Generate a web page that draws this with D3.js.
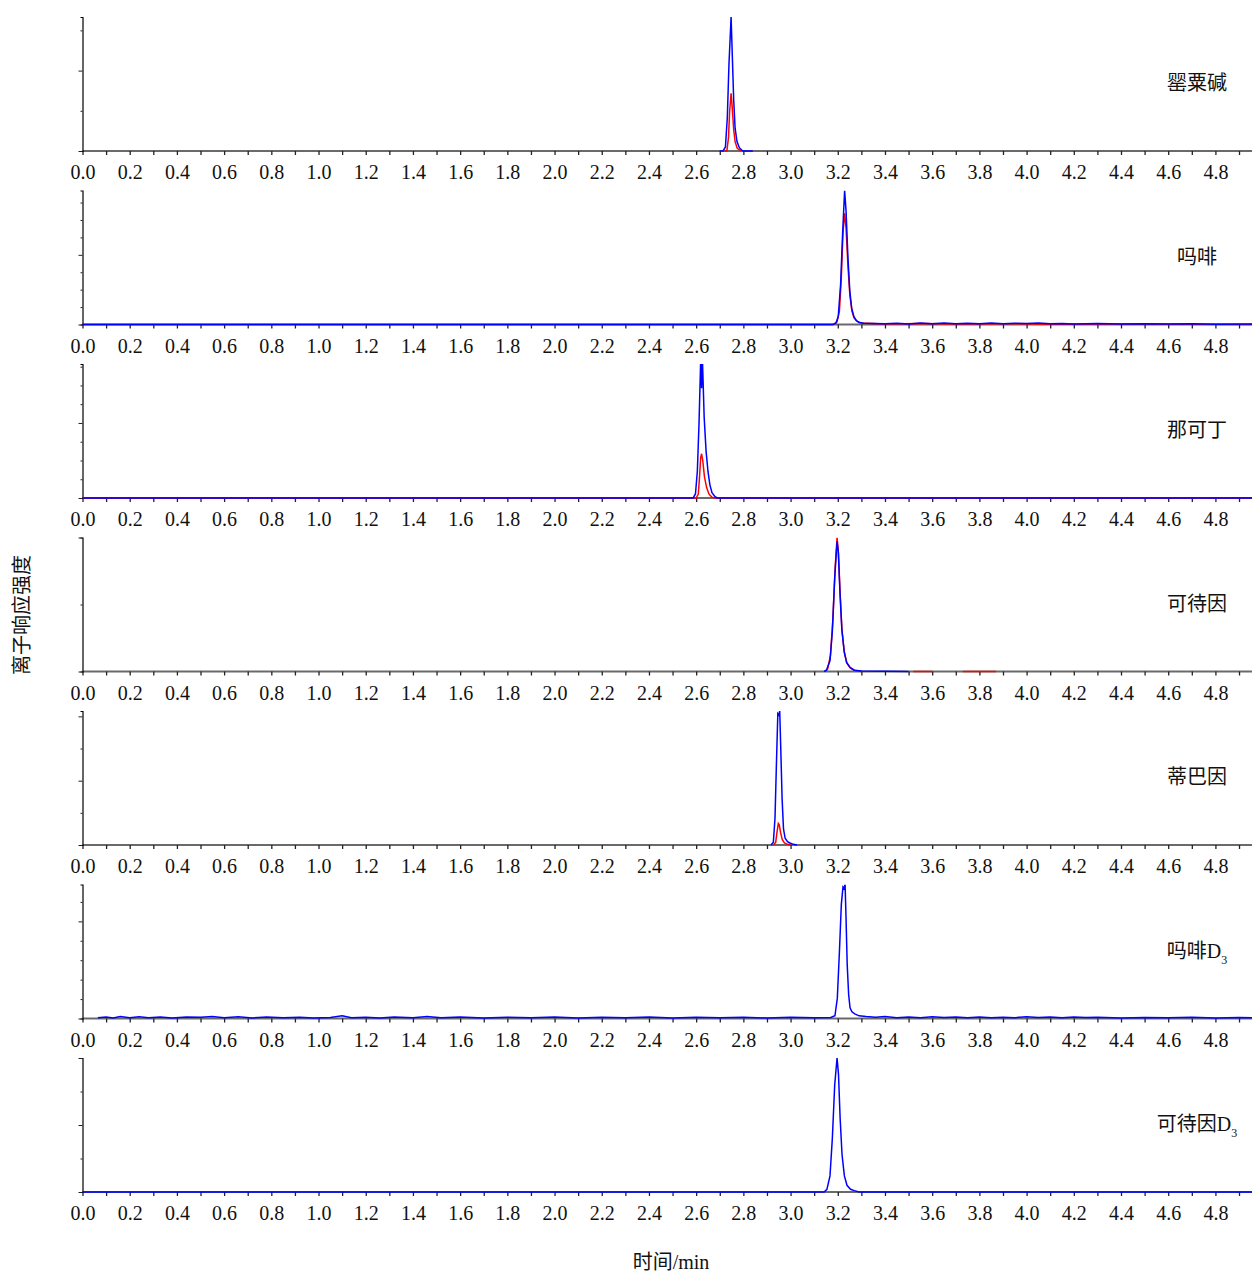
<!DOCTYPE html>
<html>
<head>
<meta charset="utf-8">
<script src="https://cdn.jsdelivr.net/npm/d3@7"></script>
<style>
  body { margin: 0; background: #fff; }
  svg text { font-family: "Liberation Serif", "Times New Roman", "Noto Sans CJK SC", serif; }
</style>
</head>
<body>
<svg id="chart"></svg>
<script>
// panel names (compound labels)
const compounds = ['罂粟碱', '吗啡', '那可丁', '可待因', '蒂巴因', '吗啡D3', '可待因D3'];

// x tick labels (time, min)
const xTickLabels = [0.0, 0.2, 0.4, 0.6, 0.8, 1.0, 1.2, 1.4, 1.6, 1.8, 2.0, 2.2, 2.4, 2.6, 2.8, 3.0, 3.2, 3.4, 3.6, 3.8, 4.0, 4.2, 4.4, 4.6, 4.8];
const xMinorTicks = [0.1, 0.3, 0.5, 0.7, 0.9, 1.1, 1.3, 1.5, 1.7, 1.9, 2.1, 2.3, 2.5, 2.7, 2.9, 3.1, 3.3, 3.5, 3.7, 3.9, 4.1, 4.3, 4.5, 4.7, 4.9];

// y ticks per panel (relative intensity, 100 = panel top)
const yTicks = [
    [0, 30, 60, 90],
    [0, 13, 26, 39, 52, 65, 78, 91],
    [0, 14, 28, 42, 56, 70, 84, 98],
    [0, 50, 100],
    [0, 24, 48, 72, 96],
    [0, 14.5, 29, 43.5, 58, 72.5, 87],
    [0, 25, 50, 75, 100]
];
const yMajorTicks = [
    [0, 60],
    [0, 52],
    [0, 56],
    [0, 100],
    [0, 48, 96],
    [0, 72.5],
    [0, 50, 100]
];

// traces: [time, relative intensity]; null = gap
const redTraces = [
    [[2.72, 0], [2.73, 0], [2.737, 10], [2.742, 30], [2.748, 43], [2.753, 32], [2.759, 16], [2.765, 7], [2.774, 2], [2.79, 0]],
    [[0, 0], [3.00, 0], [3.18, 0], [3.197, 2], [3.207, 10], [3.215, 35], [3.222, 68], [3.229, 83], [3.235, 72], [3.243, 44], [3.251, 22], [3.260, 10], [3.269, 5], [3.281, 2.5], [3.30, 1.2], [3.40, 0.4], [3.55, 0.8], [3.70, 0.3], [3.90, 0.6], [4.10, 0.2], [4.40, 0.4], [4.96, 0]],
    [[0, 0], [2.60, 0], [2.609, 3], [2.614, 15], [2.619, 30], [2.623, 33], [2.628, 28], [2.635, 16], [2.644, 8], [2.654, 3], [2.667, 0.5], [2.68, 0], [4.96, 0]],
    [[3.147, 0], [3.157, 2], [3.169, 12], [3.179, 38], [3.189, 78], [3.197, 100], [3.203, 88], [3.210, 58], [3.218, 30], [3.228, 14], [3.239, 6], [3.254, 2.5], [3.27, 1], [3.30, 0], null, [3.52, 0], [3.60, 0], null, [3.73, 0], [3.87, 0]],
    [[2.927, 0], [2.937, 2], [2.942, 9], [2.948, 16], [2.952, 15], [2.958, 9], [2.965, 4], [2.974, 1.5], [2.987, 0.5], [3.00, 0]],
    [],
    []
];

const blueTraces = [
    [[2.70, 0], [2.714, 0], [2.724, 3], [2.732, 25], [2.739, 65], [2.748, 100], [2.753, 72], [2.759, 38], [2.765, 17], [2.773, 7], [2.783, 2.5], [2.794, 0.5], [2.80, 0], [2.84, 0]],
    [[0, 0], [3.18, 0], [3.192, 1], [3.202, 6], [3.212, 30], [3.221, 70], [3.229, 100], [3.235, 85], [3.243, 50], [3.251, 25], [3.259, 12], [3.268, 6], [3.278, 3], [3.29, 1.5], [3.31, 1], [3.35, 0.8], [3.40, 0.5], [3.45, 1], [3.50, 0.4], [3.55, 1.1], [3.60, 0.5], [3.65, 1.2], [3.70, 0.6], [3.75, 1], [3.80, 0.5], [3.85, 1.1], [3.90, 0.6], [3.95, 0.9], [4.00, 0.7], [4.05, 1.2], [4.10, 0.5], [4.15, 0.8], [4.20, 0.4], [4.30, 0.7], [4.40, 0.3], [4.50, 0.6], [4.60, 0.3], [4.70, 0.5], [4.80, 0.2], [4.96, 0.3]],
    [[0, 0], [2.587, 0], [2.597, 3], [2.605, 20], [2.612, 55], [2.618, 95], [2.621, 115], [2.623, 82], [2.625, 112], [2.628, 95], [2.634, 60], [2.642, 35], [2.650, 20], [2.658, 10], [2.667, 4], [2.680, 1], [2.69, 0], [4.96, 0]],
    [[3.142, 0], [3.152, 1], [3.167, 8], [3.177, 30], [3.187, 70], [3.197, 97], [3.202, 90], [3.209, 60], [3.217, 32], [3.227, 15], [3.237, 7], [3.252, 3], [3.27, 1], [3.30, 0.3], [3.50, 0]],
    [[2.917, 0], [2.927, 2], [2.934, 20], [2.940, 60], [2.946, 98], [2.950, 97], [2.954, 100], [2.958, 75], [2.964, 35], [2.970, 12], [2.977, 5], [2.987, 2.5], [2.997, 1.5], [3.012, 0.5], [3.027, 0]],
    [[0.065, 0.5], [0.10, 1.2], [0.13, 0.4], [0.16, 1.4], [0.20, 0.6], [0.24, 1.3], [0.28, 0.5], [0.33, 1.1], [0.38, 0.3], [0.44, 1.2], [0.50, 0.9], [0.55, 1.5], [0.60, 0.6], [0.66, 1.3], [0.72, 0.4], [0.78, 1.2], [0.85, 0.5], [0.92, 1], [0.98, 0.3], [1.05, 0.8], [1.10, 2], [1.14, 0.5], [1.20, 1], [1.26, 0.4], [1.32, 1.2], [1.40, 0.6], [1.46, 1.4], [1.52, 0.5], [1.60, 1.1], [1.70, 0.4], [1.80, 1], [1.90, 0.5], [2.00, 1.2], [2.10, 0.4], [2.20, 0.9], [2.30, 0.5], [2.40, 1.1], [2.50, 0.4], [2.60, 1], [2.70, 0.5], [2.80, 0.9], [2.90, 0.4], [3.00, 1], [3.10, 0.6], [3.17, 0.8], [3.188, 2], [3.198, 15], [3.207, 50], [3.215, 85], [3.222, 98], [3.226, 97], [3.231, 100], [3.235, 75], [3.240, 40], [3.246, 18], [3.252, 8], [3.260, 5], [3.272, 3.5], [3.29, 2], [3.32, 1.5], [3.36, 1], [3.40, 1.4], [3.45, 0.6], [3.50, 1.1], [3.55, 0.5], [3.60, 1.3], [3.65, 0.7], [3.70, 1.2], [3.75, 0.6], [3.80, 1.1], [3.85, 0.5], [3.90, 1], [3.95, 0.6], [4.00, 1.3], [4.05, 0.8], [4.10, 1.2], [4.15, 0.5], [4.20, 1.2], [4.25, 0.7], [4.30, 1], [4.40, 0.4], [4.50, 0.8], [4.60, 0.5], [4.70, 0.9], [4.80, 0.4], [4.90, 0.7], [4.96, 0.5]],
    [[0, 0], [3.142, 0], [3.154, 2], [3.167, 12], [3.177, 40], [3.187, 80], [3.197, 100], [3.203, 88], [3.210, 55], [3.218, 28], [3.228, 12], [3.239, 5], [3.254, 2], [3.27, 1], [3.29, 0], [4.96, 0]]
];

// layout
const width = 1252;
const height = 1272;
const margin = { left: 82.5, right: 0, top: 17 };
const panelHeight = 134;
const panelStep = 173.5;

const svg = d3.select('#chart')
    .attr('width', width)
    .attr('height', height);

// x scale shared by every panel
const x = d3.scaleLinear()
    .domain([0, 4.955])
    .range([margin.left, width]);

const line = d3.line()
    .defined(d => d !== null)
    .x(d => x(d[0]))
    .y(d => d[1]);

compounds.forEach((name, i) => {
    const top = margin.top + i * panelStep;
    const base = top + panelHeight;

    const y = d3.scaleLinear()
        .domain([0, 100])
        .range([base, top]);

    const g = svg.append('g').attr('class', 'panel');

    // clip so clipped peaks stop at panel top
    const clipId = 'clip' + i;
    svg.append('clipPath').attr('id', clipId)
        .append('rect')
        .attr('x', margin.left)
        .attr('y', top)
        .attr('width', width - margin.left)
        .attr('height', panelHeight + 2);

    // x axis line
    g.append('line')
        .attr('x1', margin.left).attr('x2', width)
        .attr('y1', base).attr('y2', base)
        .attr('stroke', '#6a6a6a')
        .attr('stroke-width', 2);

    // x ticks
    const xAxis = d3.axisBottom(x)
        .tickValues(xTickLabels.concat(xMinorTicks))
        .tickSize(4)
        .tickFormat(d => xTickLabels.includes(d) ? d3.format('.1f')(d) : '');
    const xa = g.append('g')
        .attr('transform', `translate(0,${base})`)
        .call(xAxis);
    xa.select('.domain').remove();
    xa.selectAll('.tick line').attr('stroke', '#222').attr('stroke-width', 1.3);
    xa.selectAll('.tick text')
        .attr('y', 14)
        .attr('fill', '#111')
        .style('font-size', '20px');

    // y axis
    const yAxis = d3.axisLeft(y)
        .tickValues(yTicks[i])
        .tickSize(2)
        .tickFormat('');
    const ya = g.append('g')
        .attr('transform', `translate(${margin.left},0)`)
        .call(yAxis);
    ya.select('.domain').attr('stroke', '#000').attr('stroke-width', 1.2);
    ya.selectAll('.tick line')
        .attr('stroke', '#222')
        .attr('x2', d => yMajorTicks[i].includes(d) ? -4 : -2);

    // traces
    const traces = g.append('g').attr('clip-path', `url(#${clipId})`);
    const scaled = arr => arr.map(p => p === null ? null : [p[0], y(p[1])]);
    if (redTraces[i].length) {
        traces.append('path')
            .attr('d', line(scaled(redTraces[i])))
            .attr('fill', 'none')
            .attr('stroke', '#ff0000')
            .attr('stroke-width', 1.5);
    }
    traces.append('path')
        .attr('d', line(scaled(blueTraces[i])))
        .attr('fill', 'none')
        .attr('stroke', '#0000ff')
        .attr('stroke-width', 1.5);

    // compound label
    const label = g.append('text')
        .attr('x', 1197)
        .attr('y', base - 68)
        .attr('dy', '0.35em')
        .attr('text-anchor', 'middle')
        .style('font-size', '20px')
        .attr('fill', '#111');
    if (name.endsWith('D3')) {
        label.append('tspan').text(name.slice(0, -1));
        label.append('tspan')
            .attr('dy', 6)
            .style('font-size', '12px')
            .text('3');
    } else {
        label.text(name);
    }
});

// axis titles
svg.append('text')
    .attr('x', 671)
    .attr('y', 1269)
    .attr('text-anchor', 'middle')
    .style('font-size', '20px')
    .attr('fill', '#111')
    .text('时间/min');

svg.append('text')
    .attr('transform', 'translate(29,615) rotate(-90)')
    .attr('text-anchor', 'middle')
    .style('font-size', '20px')
    .attr('fill', '#111')
    .text('离子响应强度');
</script>
</body>
</html>
